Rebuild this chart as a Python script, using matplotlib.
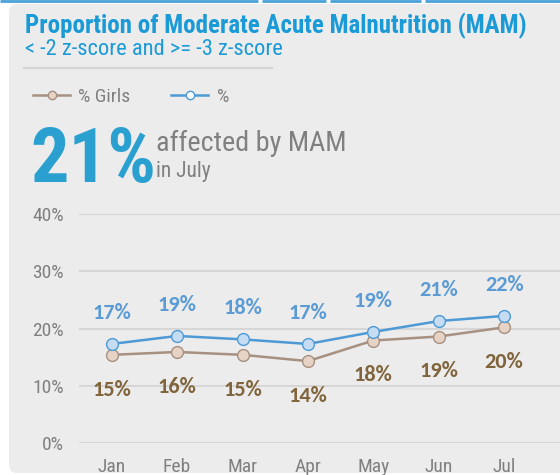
import matplotlib
matplotlib.use("Agg")
import matplotlib.pyplot as plt
from matplotlib.patches import FancyBboxPatch
from matplotlib.lines import Line2D

months = ["Jan", "Feb", "Mar", "Apr", "May", "Jun", "Jul"]
pct_all = [17.3, 18.7, 18.1, 17.3, 19.4, 21.3, 22.2]
pct_girls = [15.4, 15.9, 15.4, 14.3, 17.9, 18.6, 20.2]
y_ticks = [0, 10, 20, 30, 40]

NARROW = ["Liberation Sans Narrow", "Roboto Condensed", "Archivo Narrow", "Barlow Semi Condensed", "DejaVu Sans"]
NARROW_BOLD = ["Liberation Sans Narrow", "Roboto Condensed", "Barlow Semi Condensed", "DejaVu Sans"]
LABEL_FONT = ["Carlito", "Lato", "DejaVu Sans"]

BLUE_LINE = "#4d9ad6"
BLUE_FACE = "#c5dcf2"
BLUE_LABEL = "#5b9bd5"
BROWN_LINE = "#a69080"
BROWN_FACE = "#e6d3c6"
BROWN_LABEL = "#80643c"
TITLE_BLUE = "#1a9ad6"
GRAY_TXT = "#808080"
PANEL = "#ececec"

W, H = 560, 475
fig = plt.figure(figsize=(W / 100, H / 100), dpi=100, facecolor="white")

bg = fig.add_axes([0, 0, 1, 1], zorder=0)
bg.set_xlim(0, W)
bg.set_ylim(H, 0)
bg.axis("off")

panel = FancyBboxPatch((9, 4), 620, 469, boxstyle="round,pad=0,rounding_size=8",
                       facecolor=PANEL, edgecolor="none")
bg.add_patch(panel)
for x0, x1 in [(0, 258), (262, 326), (330, 421), (425, 560)]:
    bg.plot([x0, x1], [0.8, 0.8], color="#4aa0d8", lw=2, solid_capstyle="butt")

bg.text(25, 33, "Proportion of Moderate Acute Malnutrition (MAM)", family=NARROW_BOLD,
        fontweight="bold", fontsize=18, color=TITLE_BLUE, va="baseline", ha="left")
bg.text(25, 55, "< -2 z-score and >= -3 z-score", family=NARROW,
        fontsize=16.2, color=TITLE_BLUE, va="baseline", ha="left")
bg.plot([24, 272], [68, 68], color="#d4d4d4", lw=1.5)

bg.add_line(Line2D([33, 70], [95, 95], color=BROWN_LINE, lw=1.8))
bg.plot([52], [95], marker="o", ms=6, mfc=BROWN_FACE, mec=BROWN_LINE, mew=1)
bg.text(78, 102, "% Girls", family=NARROW, fontsize=14, color=GRAY_TXT,
        va="baseline", ha="left")
bg.add_line(Line2D([171, 208], [95, 95], color=BLUE_LINE, lw=1.8))
bg.plot([190], [95], marker="o", ms=6, mfc="white", mec=BLUE_LINE, mew=1)
bg.text(217, 102, "%", family=NARROW, fontsize=14, color=GRAY_TXT,
        va="baseline", ha="left")

bg.text(30, 182, "21%", family=NARROW_BOLD, fontweight="bold", fontsize=55,
        color="#2aa0d0", va="baseline", ha="left")
bg.text(156, 151, "affected by MAM", family=NARROW, fontsize=20.3,
        color=GRAY_TXT, va="baseline", ha="left")
bg.text(156, 177, "in July", family=NARROW, fontsize=15.5,
        color=GRAY_TXT, va="baseline", ha="left")

left = 79 / W
bottom = 1 - 443 / H
top = 1 - 214 / H
spacing = 65.4
width = 8 * spacing / W
ax = fig.add_axes([left, bottom, width, top - bottom], zorder=1)
ax.patch.set_alpha(0)
x = list(range(len(months)))
ax.set_xlim(-0.5, 7.5)
ax.set_ylim(0, 40)
for s in ax.spines.values():
    s.set_visible(False)
ax.set_yticks(y_ticks)
ax.set_yticklabels([f"{v}%" for v in y_ticks])
ax.set_xticks(x)
ax.set_xticklabels(months)
ax.tick_params(axis="both", length=0, colors=GRAY_TXT, labelsize=14)
ax.tick_params(axis="y", pad=11)
ax.tick_params(axis="x", pad=11)
for lab in ax.get_xticklabels() + ax.get_yticklabels():
    lab.set_family(NARROW)
ax.yaxis.grid(True, color="#d6d6d6", lw=1.5)
ax.set_axisbelow(True)

ax.plot(x, pct_girls, color=BROWN_LINE, lw=1.8, marker="o", ms=8.5,
        mfc=BROWN_FACE, mec=BROWN_LINE, mew=1, zorder=3, clip_on=False)
ax.plot(x, pct_all, color=BLUE_LINE, lw=1.8, marker="o", ms=8.5,
        mfc=BLUE_FACE, mec=BLUE_LINE, mew=1, zorder=4, clip_on=False)

for xi, v in zip(x, pct_all):
    ax.annotate(f"{round(v)}%", (xi, v), xytext=(0, 22.5), textcoords="offset points",
                ha="center", va="center", family=LABEL_FONT, fontweight="bold",
                fontsize=16, color=BLUE_LABEL)
for xi, v in zip(x, pct_girls):
    ax.annotate(f"{round(v)}%", (xi, v), xytext=(0, -25), textcoords="offset points",
                ha="center", va="center", family=LABEL_FONT, fontweight="bold",
                fontsize=16, color=BROWN_LABEL)

fig.savefig("out.png", dpi=100, facecolor="white")
